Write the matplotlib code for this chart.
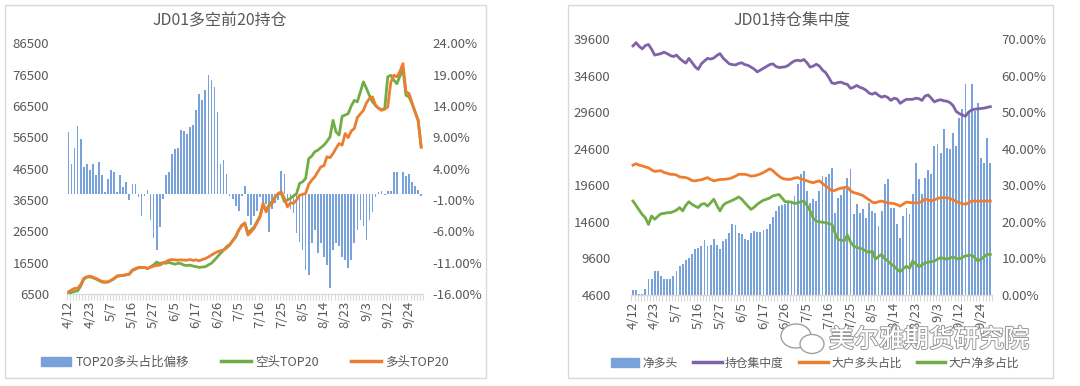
import numpy as np
import matplotlib
matplotlib.use("Agg")
import matplotlib.pyplot as plt
from matplotlib.patches import Rectangle, Ellipse, Patch
from matplotlib.lines import Line2D
import matplotlib.patheffects as pe

plt.rcParams['font.family'] = ['Noto Sans CJK SC', 'DejaVu Sans']

# %%
# 日期刻度 (每7个交易日一个标签)
tick_labels = ['4/12', '4/23', '5/7', '5/16', '5/27', '6/5', '6/17', '6/26', '7/5',
               '7/16', '7/25', '8/5', '8/14', '8/23', '9/3', '9/12', '9/24']

# 左图: JD01多空前20持仓
top20_shift = [9.8, 4.8, 7.3, 10.8, 8.8, 4.3, 4.8, 3.8, 4.8, 3.0,
               5.0, 3.0, 0.3, 2.3, 3.8, 3.5, 0.3, 3.0, 1.0, 1.8,
               -1.0, 1.5, 1.6, -0.5, -3.6, -0.3, 0.6, -4.2, -7.1, -9.0,
               -5.3, -0.9, 3.0, 3.5, 6.3, 7.2, 7.3, 10.1, 10.0, 9.5,
               10.7, 11.0, 13.3, 15.9, 14.9, 16.5, 19.0, 18.1, 17.0, 13.1,
               4.8, 5.4, 3.1, -0.3, -0.9, -1.9, -2.8, -0.3, 1.2, -3.5,
               -5.0, -3.5, -2.8, -0.5, -1.6, -1.6, -6.1, -2.5, -1.5, -1.0,
               3.6, 3.1, -1.0, -2.5, -3.0, -6.2, -7.7, -9.0, -12.2, -13.0,
               -7.9, -5.8, -9.5, -7.9, -10.1, -11.4, -15.1, -9.0, -7.9, -8.4,
               -10.1, -10.6, -11.9, -10.6, -7.9, -5.8, -4.2, -5.2, -7.4, -4.2,
               -2.9, -0.5, 0.2, 0.4, -0.2, 0.5, 0.4, 3.5, 3.4, -0.1,
               3.4, 2.8, 3.2, 1.8, 1.2, 0.6, -0.3]

short_top20 = [6500, 7000, 7300, 7500, 9000, 11200, 11800, 12000, 11700, 11300,
               10800, 10300, 10200, 10300, 10800, 11400, 12100, 12300, 12400, 12600,
               12800, 14000, 14400, 14900, 14900, 15000, 14600, 15200, 15800, 16700,
               16200, 16500, 16300, 16600, 16300, 16000, 16300, 16200, 15700, 15600,
               15700, 15400, 15200, 15000, 15100, 15200, 15800, 16300, 17300, 18400,
               19500, 20500, 21600, 22300, 23500, 24800, 26900, 28500, 29000, 26000,
               26900, 27800, 29600, 31400, 35000, 33200, 35000, 36000, 37500, 38400,
               38600, 36000, 36500, 37000, 37800, 38500, 41800, 42300, 43400, 49700,
               50500, 51900, 52400, 53200, 54000, 55200, 56600, 61900, 58200, 57200,
               63200, 63600, 64100, 66500, 68300, 67800, 71000, 74200, 72100, 69800,
               67800, 66700, 65700, 65400, 65600, 75800, 76300, 74800, 73600, 76000,
               78400, 69900, 69400, 67200, 64600, 61900, 53400]

long_top20 = [7200, 7800, 8300, 8300, 9500, 11500, 12000, 12200, 11900, 11500,
              11000, 10500, 10400, 10400, 10900, 11500, 12300, 12400, 12500, 12700,
              12900, 14150, 14600, 15000, 15000, 15000, 14700, 15000, 15400, 15600,
              15700, 16300, 16800, 17300, 17500, 17400, 17300, 17400, 17300, 17300,
              17500, 17200, 17400, 17100, 17500, 17800, 18300, 18900, 19500, 20000,
              20300, 20500, 21200, 22100, 23500, 24800, 26900, 28200, 29200, 25300,
              26300, 27400, 29200, 31100, 35400, 32700, 34500, 35400, 37500, 38600,
              39100, 37000, 34300, 35600, 35400, 36500, 38000, 38300, 38600, 41500,
              42800, 43900, 45500, 47100, 47400, 50300, 50000, 51300, 53000, 54500,
              54000, 57700, 56400, 58500, 59300, 62800, 64000, 65100, 67500, 68900,
              69400, 66600, 65800, 65100, 65500, 66200, 74000, 76300, 75800, 77500,
              80000, 71000, 70500, 67500, 64600, 61900, 53400]

# 右图: JD01持仓集中度
net_long = [5250, 5300, 4700, 4800, 5380, 6750, 6750, 7880, 7850, 7200,
            6830, 6750, 6750, 7200, 7880, 8560, 8900, 9340, 9700, 10160,
            10850, 11050, 11280, 12080, 11280, 11500, 12210, 11500, 10850, 12000,
            12210, 13120, 14260, 14150, 13120, 12900, 12210, 12080, 13120, 13350,
            13200, 13280, 13430, 13580, 14260, 15300, 16080, 16770, 16900, 17000,
            17370, 17230, 18130, 19730, 21100, 21550, 18810, 17220, 17680, 17450,
            18810, 20870, 20720, 21200, 22000, 15850, 17900, 18270, 19050, 20640,
            21780, 15630, 17000, 15850, 16320, 15170, 17220, 16090, 15850, 14030,
            16090, 19730, 20420, 16540, 16540, 14260, 12430, 15400, 16540, 15630,
            18370, 22690, 20420, 18370, 20640, 21650, 21100, 24970, 25200, 24050,
            27250, 24740, 24500, 26790, 24970, 28840, 29990, 33400, 29750, 33400,
            29750, 30890, 23370, 22690, 26100, 22690]

concentration = [68.1, 69.0, 68.0, 67.3, 68.2, 68.5, 67.2, 65.6, 65.8, 66.0,
                 66.4, 66.0, 65.5, 65.2, 65.6, 64.7, 64.0, 63.4, 64.7, 63.6,
                 62.4, 61.7, 63.2, 64.0, 64.7, 64.5, 64.8, 65.5, 66.0, 64.8,
                 64.0, 63.2, 63.0, 62.9, 63.3, 63.5, 63.0, 62.8, 62.3, 61.8,
                 61.0, 61.5, 62.0, 62.5, 63.0, 63.2, 62.5, 62.2, 62.3, 62.4,
                 62.8, 63.5, 64.0, 64.2, 64.0, 64.4, 63.5, 62.3, 62.6, 63.1,
                 62.6, 61.5, 60.8, 59.5, 58.0, 57.8, 58.1, 58.2, 57.8, 57.6,
                 56.5, 56.8, 57.3, 56.8, 56.5, 56.0, 55.2, 54.9, 55.3, 54.6,
                 54.1, 54.4, 54.0, 53.2, 53.8, 53.6, 52.4, 53.0, 53.5, 53.5,
                 53.5, 53.8, 53.7, 53.2, 54.4, 54.7, 53.8, 52.8, 53.2, 53.4,
                 53.1, 53.0, 52.6, 51.8, 50.2, 49.6, 49.2, 48.9, 50.0, 50.6,
                 50.8, 50.9, 51.0, 51.1, 51.3, 51.5]

big_long_ratio = [35.5, 35.9, 35.5, 35.3, 35.0, 34.8, 34.2, 33.8, 33.9, 34.0,
                  33.5, 33.3, 33.0, 33.0, 32.8, 32.3, 32.2, 32.1, 31.8, 31.3,
                  31.2, 31.4, 31.5, 31.8, 32.1, 31.6, 31.2, 31.4, 31.6, 31.6,
                  31.7, 31.8, 32.1, 32.5, 33.0, 33.0, 33.0, 32.8, 32.5, 32.6,
                  32.8, 33.1, 33.5, 34.0, 34.5, 34.0, 33.2, 32.5, 31.9, 31.7,
                  31.6, 31.7, 32.0, 32.1, 31.8, 31.5, 31.2, 30.9, 30.7, 31.0,
                  31.2, 30.5, 29.8, 29.2, 28.5, 28.6, 29.0, 29.2, 29.4, 29.5,
                  28.5, 28.0, 27.8, 27.5, 27.2, 26.6, 26.0, 25.4, 25.2, 25.5,
                  25.7, 25.4, 25.2, 25.1, 25.0, 24.7, 24.3, 24.9, 25.4, 25.3,
                  25.2, 25.2, 25.2, 25.6, 26.3, 26.0, 25.7, 26.0, 26.4, 26.6,
                  26.6, 26.6, 26.4, 26.0, 25.6, 25.2, 25.0, 24.8, 25.2, 25.7,
                  25.7, 25.6, 25.7, 25.7, 25.7, 25.7]

big_net_ratio = [25.7, 24.5, 23.2, 22.0, 21.1, 19.3, 21.6, 20.7, 21.5, 22.2,
                 22.3, 22.5, 22.5, 22.8, 23.2, 23.9, 23.0, 24.5, 25.5, 24.8,
                 24.3, 23.9, 24.8, 25.0, 24.3, 25.2, 26.2, 24.5, 23.0, 24.5,
                 25.2, 25.5, 25.9, 26.3, 26.8, 26.2, 25.2, 24.3, 23.4, 24.0,
                 24.8, 25.4, 25.9, 26.2, 26.5, 27.1, 27.3, 27.5, 26.5, 25.5,
                 25.5, 25.4, 25.0, 25.2, 25.5, 25.7, 24.5, 23.0, 21.0, 20.2,
                 20.0, 19.9, 19.8, 19.5, 19.3, 17.0, 15.2, 15.0, 14.8, 16.4,
                 14.5, 13.4, 13.0, 12.8, 12.5, 12.0, 11.6, 12.0, 9.8, 10.5,
                 11.1, 10.0, 9.3, 8.5, 7.9, 7.0, 6.4, 7.2, 7.9, 7.3,
                 9.3, 8.5, 7.7, 8.2, 8.8, 9.0, 9.1, 9.3, 9.8, 10.2,
                 10.0, 9.8, 10.1, 10.4, 10.0, 9.8, 10.3, 10.7, 10.8, 10.9,
                 10.2, 9.3, 9.8, 10.5, 11.1, 11.1]

# %%
W, H = 1080, 386
TXT = '#595959'
BAR = '#7aa2da'
ORANGE = '#ed7d31'
GREEN = '#70ad47'
PURPLE = '#7f62a8'
AXC = '#d9d9d9'


def fx(px):
    return px / W


def fy(py):
    return 1 - py / H


fig = plt.figure(figsize=(W / 100, H / 100), dpi=100)
fig.patch.set_facecolor('white')

# 两个卡片边框
for x0, x1 in [(5, 486), (568, 1053)]:
    fig.add_artist(Rectangle((fx(x0), fy(378)), (x1 - x0) / W, 373 / H,
                             transform=fig.transFigure, facecolor='white',
                             edgecolor=AXC, lw=1, zorder=0))


def style_axes(ax, axr, n, lpad, rpad):
    for a in (ax, axr):
        for s in ['top', 'left', 'right']:
            a.spines[s].set_visible(False)
        a.spines['bottom'].set_color(AXC)
    ax.set_xlim(-0.5, n - 0.5)
    ax.set_xticks(np.arange(0, 7 * len(tick_labels), 7))
    ax.set_xticklabels(tick_labels, rotation=90)
    ax.set_xticks(np.arange(-0.5, n, 1), minor=True)
    ax.tick_params(axis='x', which='major', length=0, pad=5, labelsize=9.5, labelcolor=TXT)
    ax.tick_params(axis='x', which='minor', length=4, color=AXC, width=0.8)
    ax.tick_params(axis='y', length=0, pad=lpad, labelsize=9.5, labelcolor=TXT)
    axr.tick_params(axis='y', length=0, pad=rpad, labelsize=9.5, labelcolor=TXT)
    axr.tick_params(axis='x', length=0)


# %%
# 左图
n1 = len(top20_shift)
x1 = np.arange(n1)
axL = fig.add_axes([fx(67), fy(294), (422.7 - 67) / W, (294 - 43.3) / H])
axL2 = axL.twinx()
axL2.bar(x1, top20_shift, width=0.55, color=BAR)
axL.plot(x1, short_top20, color=GREEN, lw=2.0, solid_joinstyle='round')
axL.plot(x1, long_top20, color=ORANGE, lw=2.0, solid_joinstyle='round')
axL.set_zorder(axL2.get_zorder() + 1)
axL.patch.set_visible(False)
axL.set_ylim(6500, 86500)
axL.set_yticks(np.arange(6500, 86501, 10000))
axL2.set_ylim(-16, 24)
axL2.set_yticks(np.arange(-16, 24.1, 5))
axL2.set_yticklabels([f'{v:.2f}%' for v in np.arange(-16, 24.1, 5)])
style_axes(axL, axL2, n1, 13, 7)

fig.text(fx(220), fy(21), 'JD01多空前20持仓', ha='center', va='center',
         fontsize=11.5, color=TXT)

hL = [Patch(color=BAR), Line2D([], [], color=GREEN, lw=2.5), Line2D([], [], color=ORANGE, lw=2.5)]
fig.legend(hL, ['TOP20多头占比偏移', '空头TOP20', '多头TOP20'], loc='center',
           bbox_to_anchor=(fx(245), fy(362)), ncol=3, frameon=False, fontsize=9,
           labelcolor=TXT, handlelength=2.4, handletextpad=0.3, columnspacing=2.6)

# %%
# 右图
n2 = len(net_long)
x2 = np.arange(n2)
axR = fig.add_axes([fx(631.4), fy(295), (991.9 - 631.4) / W, (295 - 39) / H])
axR2 = axR.twinx()
axR.bar(x2, np.array(net_long) - 4600, bottom=4600, width=0.6, color=BAR)
axR2.plot(x2, concentration, color=PURPLE, lw=2.0)
axR2.plot(x2, big_long_ratio, color=ORANGE, lw=2.0)
axR2.plot(x2, big_net_ratio, color=GREEN, lw=2.0)
axR.set_ylim(4600, 39600)
axR.set_yticks(np.arange(4600, 39601, 5000))
axR2.set_ylim(0, 70)
axR2.set_yticks(np.arange(0, 70.1, 10))
axR2.set_yticklabels([f'{v:.2f}%' for v in np.arange(0, 70.1, 10)])
style_axes(axR, axR2, n2, 15, 7)

fig.text(fx(792), fy(21), 'JD01持仓集中度', ha='center', va='center',
         fontsize=11.5, color=TXT)

hR = [Patch(color=BAR), Line2D([], [], color=PURPLE, lw=2.5),
      Line2D([], [], color=ORANGE, lw=2.5), Line2D([], [], color=GREEN, lw=2.5)]
fig.legend(hR, ['净多头', '持仓集中度', '大户多头占比', '大户净多占比'], loc='center',
           bbox_to_anchor=(fx(815), fy(363)), ncol=4, frameon=False, fontsize=8.5,
           labelcolor=TXT, handlelength=2.4, handletextpad=0.3, columnspacing=1.3)

# %%
# 水印
for cx, cy, w, h in [(796, 336, 30, 24), (812, 344, 24, 19)]:
    fig.add_artist(Ellipse((fx(cx), fy(cy)), w / W, h / H, transform=fig.transFigure,
                           facecolor='white', edgecolor='#a0a0a0', lw=1.0, zorder=10))
wm = fig.text(fx(929), fy(340), '美尔雅期货研究院', ha='center', va='center',
              fontsize=18, color='white', zorder=11)
wm.set_path_effects([pe.withStroke(linewidth=1.6, foreground='#9a9a9a'), pe.Normal()])

fig.savefig('out.png', dpi=100, facecolor='white')
